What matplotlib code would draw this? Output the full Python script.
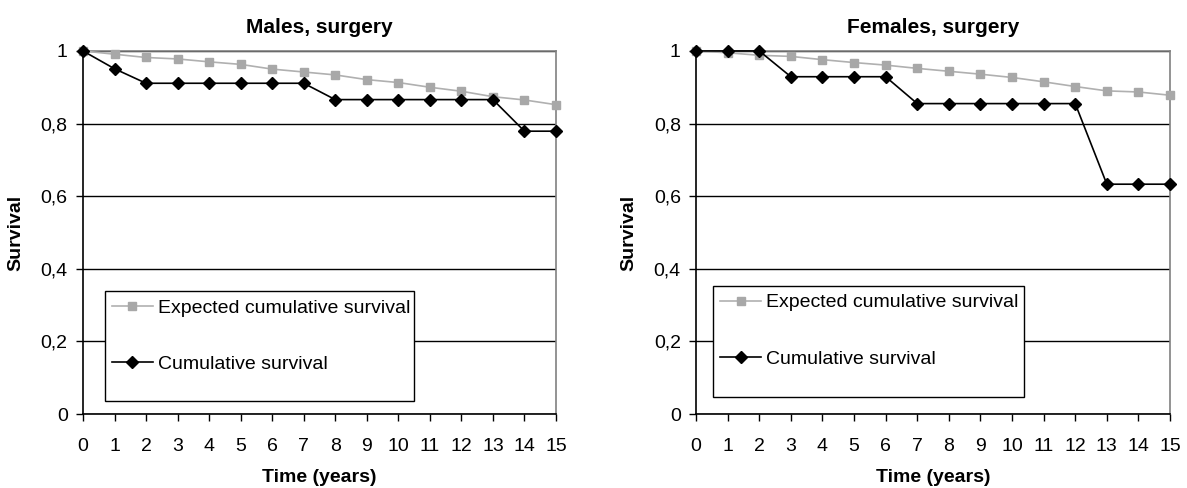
import matplotlib.pyplot as plt
from matplotlib.patches import Rectangle
from matplotlib.ticker import FuncFormatter

plt.rcParams['font.family'] = ['Liberation Sans', 'DejaVu Sans']

years = list(range(16))

# males, surgery
male_expected = [1.0, 0.991, 0.982, 0.978, 0.970, 0.963, 0.950, 0.942,
                 0.934, 0.921, 0.913, 0.900, 0.889, 0.874, 0.865, 0.852]
male_cumulative = [1.0, 0.951, 0.911, 0.911, 0.911, 0.911, 0.911, 0.911,
                   0.866, 0.866, 0.866, 0.866, 0.866, 0.866, 0.779, 0.779]

# females, surgery
female_expected = [1.0, 0.995, 0.988, 0.985, 0.976, 0.968, 0.961, 0.952,
                   0.944, 0.936, 0.927, 0.915, 0.902, 0.890, 0.887, 0.878]
female_cumulative = [1.0, 1.0, 1.0, 0.929, 0.929, 0.929, 0.929, 0.855,
                     0.855, 0.855, 0.855, 0.855, 0.855, 0.633, 0.633, 0.633]

titles = ["Males, surgery", "Females, surgery"]
panels = [(male_expected, male_cumulative), (female_expected, female_cumulative)]

fig = plt.figure(figsize=(11.87, 4.88), dpi=100)
positions = [[0.0699, 0.1516, 0.3985, 0.744], [0.5864, 0.1516, 0.3993, 0.744]]
# legend box (axes fraction): left, bottom, width, height
boxes = [(0.046, 0.035, 0.654, 0.304), (0.036, 0.048, 0.655, 0.305)]

for pos, title, (exp, cum), box in zip(positions, titles, panels, boxes):
    ax = fig.add_axes(pos)
    ax.plot(years, exp, color='#b0b0b0', lw=1.2, marker='s', markersize=5.5,
            markerfacecolor='#a8a8a8', markeredgecolor='#a8a8a8',
            label='Expected cumulative survival', clip_on=False, zorder=3)
    ax.plot(years, cum, color='black', lw=1.2, marker='D', markersize=6,
            label='Cumulative survival', clip_on=False, zorder=4)

    ax.set_xlim(0, 15)
    ax.set_ylim(0, 1)
    ax.set_xticks(years)
    ax.set_yticks([0, 0.2, 0.4, 0.6, 0.8, 1.0])
    ax.yaxis.set_major_formatter(FuncFormatter(lambda v, p: ('%g' % round(v, 1)).replace('.', ',')))
    ax.tick_params(direction='out', length=5, width=1, labelsize=14, color='black')
    ax.tick_params(axis='x', pad=12)
    ax.tick_params(axis='y', pad=6)
    ax.yaxis.grid(True, color='black', lw=1)
    ax.set_axisbelow(True)
    for s in ['top', 'right']:
        ax.spines[s].set_color('#808080')
        ax.spines[s].set_linewidth(1.2)
    for s in ['left', 'bottom']:
        ax.spines[s].set_color('black')
        ax.spines[s].set_linewidth(1.2)

    ax.set_title(title, fontsize=15, fontweight='bold', pad=13)
    ax.set_xlabel('Time (years)', fontsize=14, fontweight='bold', labelpad=10)
    ax.set_ylabel('Survival', fontsize=14, fontweight='bold', labelpad=12)

    ax.add_patch(Rectangle((box[0], box[1]), box[2], box[3], transform=ax.transAxes,
                           facecolor='white', edgecolor='black', lw=1, zorder=5))
    leg = ax.legend(loc='upper left', bbox_to_anchor=(box[0] + 0.015, box[1] + box[3] - 0.022),
                    frameon=False, fontsize=14, numpoints=1, handlelength=2.1,
                    handletextpad=0.25, labelspacing=2.0, borderpad=0, borderaxespad=0)
    leg.set_zorder(6)

plt.savefig('out.png', dpi=100)
